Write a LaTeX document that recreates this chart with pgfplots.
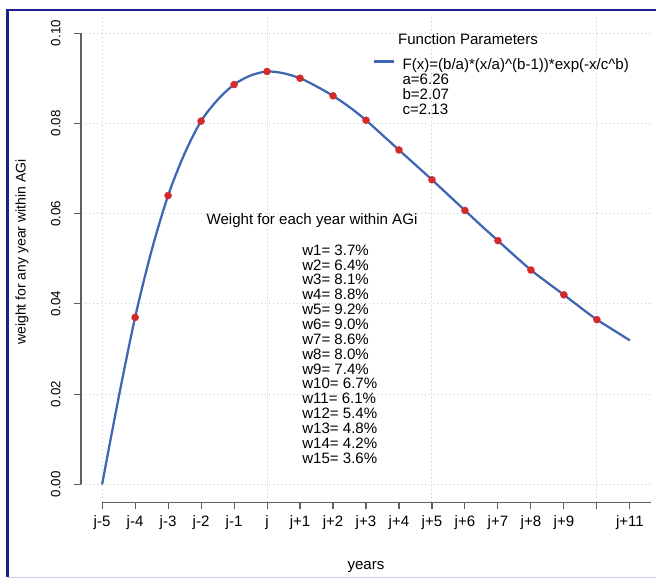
\documentclass[border=0pt]{standalone}
\usepackage{pgfplots}
\pgfplotsset{compat=1.18}
\usepackage{fontspec}
\setmainfont{Liberation Sans}
\definecolor{curveblue}{HTML}{3F67B1}
\definecolor{dotred}{HTML}{D42A2A}
\definecolor{framenavy}{HTML}{1E1E8C}
\definecolor{framelav}{HTML}{C8C8F0}
\definecolor{axgray}{HTML}{606060}
\definecolor{gridgray}{HTML}{C4C4C4}
\begin{document}
\begin{tikzpicture}[font=\fontsize{11.3}{13}\selectfont]
\useasboundingbox (0,0) rectangle (492pt,-434.25pt);
\begin{axis}[
  at={(60.75pt,-376.8pt)}, anchor=south west,
  scale only axis, width=427.5pt, height=365.5pt,
  xmin=-0.64, xmax=16.64, ymin=-0.004, ymax=0.104,
  axis line style={draw=none},
  clip=false,
  xtick pos=left, ytick pos=left,
  tick align=outside,
  major tick length=5.25pt,
  tick style={axgray, line width=0.8pt},
  xtick={0,1,...,16},
  xticklabels={j-5,j-4,j-3,j-2,j-1,j,j+1,j+2,j+3,j+4,j+5,j+6,j+7,j+8,j+9,{},j+11},
  ytick={0,0.02,0.04,0.06,0.08,0.1},
  scaled y ticks=false,
  yticklabel style={rotate=90, anchor=south, yshift=6.6pt,
    font=\fontsize{10}{12}\selectfont,
    /pgf/number format/fixed, /pgf/number format/fixed zerofill,
    /pgf/number format/precision=2, /pgf/number format/assume math mode=true},
  xticklabel style={yshift=-1pt},
  ymajorgrids=true,
  extra x ticks={0,5,10,15},
  extra x tick labels={},
  extra x tick style={grid=major, major tick length=0pt},
  grid style={gridgray, line width=0.75pt, dash pattern=on 0.75pt off 2.25pt},
  legend image code/.code={\draw[#1] (0pt,3.6pt) -- (15pt,3.6pt);},
  legend style={at={(0.5123,0.909)}, anchor=north west, draw=none, fill=none,
    inner sep=0pt, row sep=1.5pt, column sep=5.25pt,
    nodes={inner sep=0pt, text height=7.5pt, text depth=2.25pt},
    font=\fontsize{11.3}{13}\selectfont},
  legend cell align=left,
]
\draw[axgray, line width=0.8pt] (axis cs:0,-0.004) -- (axis cs:16.64,-0.004);
\draw[axgray, line width=0.8pt] (axis cs:-0.64,0) -- (axis cs:-0.64,0.1);
\addplot[curveblue, line width=1.7pt, smooth] coordinates {
(0,0) (0.5,0.0192) (1,0.0370) (1.5,0.0518) (2,0.0640) (2.5,0.0733) (3,0.0805)
(3.5,0.0852) (4,0.0886) (4.5,0.0906) (5,0.0915) (5.5,0.0911) (6,0.0900)
(6.5,0.0882) (7,0.0861) (7.5,0.0836) (8,0.0807) (8.5,0.0774) (9,0.0741)
(9.5,0.0708) (10,0.0675) (10.5,0.0641) (11,0.0607) (11.5,0.0573) (12,0.0540)
(12.5,0.0507) (13,0.0475) (13.5,0.0447) (14,0.0420) (14.5,0.0392) (15,0.0365)
(15.5,0.0342) (16,0.0319)};
\addlegendentry{F(x)=(b/a)*(x/a)\textasciicircum(b-1))*exp(-x/c\textasciicircum b)}
\addlegendimage{empty legend}
\addlegendentry{a=6.26}
\addlegendimage{empty legend}
\addlegendentry{b=2.07}
\addlegendimage{empty legend}
\addlegendentry{c=2.13}
\addplot[only marks, mark=*, mark size=2.6pt, color=dotred, forget plot] coordinates {
(1,0.0370) (2,0.0640) (3,0.0805) (4,0.0886) (5,0.0915) (6,0.0900) (7,0.0861)
(8,0.0807) (9,0.0741) (10,0.0675) (11,0.0607) (12,0.0540) (13,0.0475)
(14,0.0420) (15,0.0365)};
\end{axis}
\begin{scope}[x=0.75pt, y=-0.75pt]
\draw[framenavy, line width=1.9pt] (7.5,577) -- (7.5,10) -- (660,10);
\draw[framelav, line width=1.2pt] (7.5,577.5) -- (660,577.5);
\node at (468,39) {Function Parameters};
\node at (312,220.7) {Weight for each year within AGi};
\node[anchor=north west, align=left, inner sep=0pt, font=\fontsize{11.3}{11.13}\selectfont] at (302,244.5)
 {w1= 3.7\%\\w2= 6.4\%\\w3= 8.1\%\\w4= 8.8\%\\w5= 9.2\%\\w6= 9.0\%\\w7= 8.6\%\\w8= 8.0\%\\w9= 7.4\%\\w10= 6.7\%\\w11= 6.1\%\\w12= 5.4\%\\w13= 4.8\%\\w14= 4.2\%\\w15= 3.6\%};
\node[rotate=90, font=\fontsize{10.5}{12}\selectfont] at (22,252) {weight for any year within AGi};
\node at (366,567) {years};
\end{scope}
\end{tikzpicture}
\end{document}
